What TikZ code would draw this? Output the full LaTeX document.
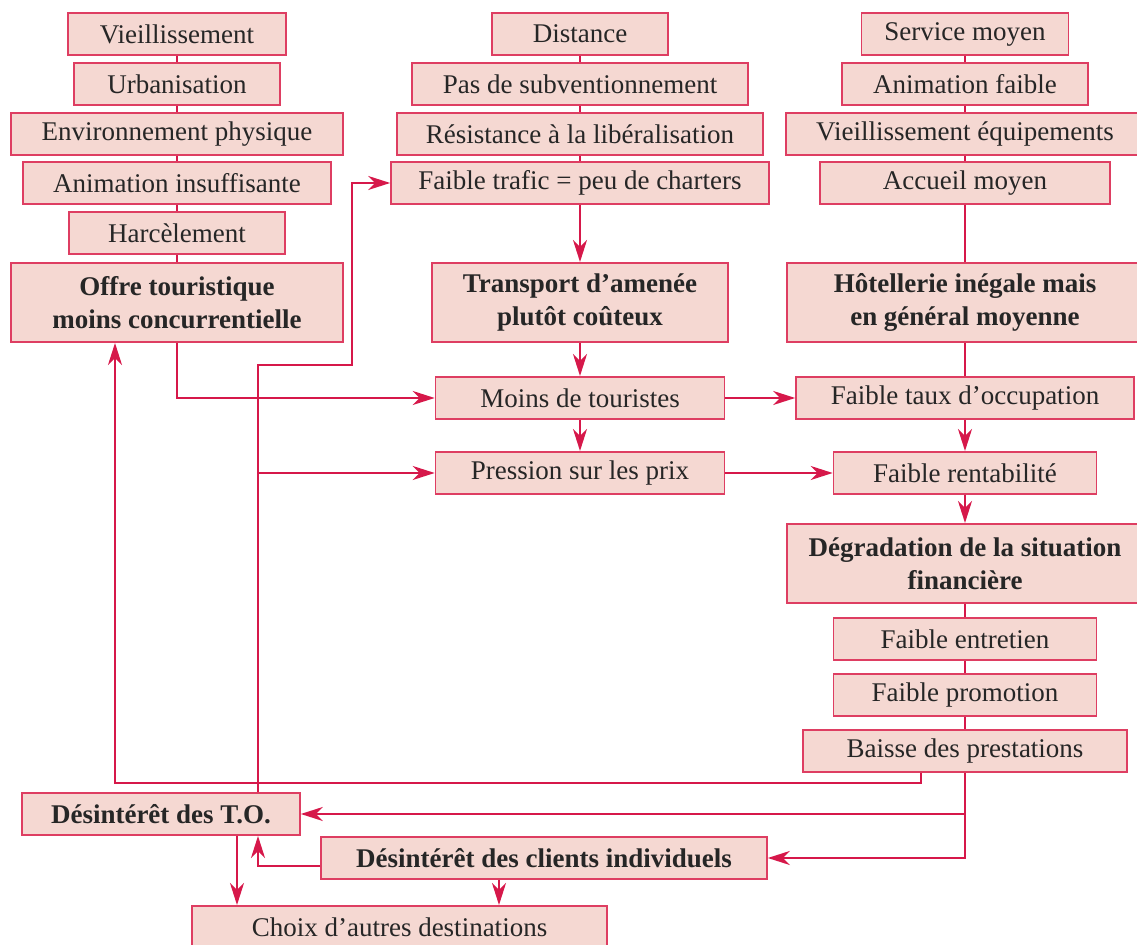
\documentclass[tikz,border=0pt]{standalone}
\usepackage{fontspec}
\setmainfont{Liberation Serif}
\usepackage{xcolor}
\usepackage{tikz}
\usetikzlibrary{positioning,arrows.meta}
\definecolor{rouge}{RGB}{214,24,74}
\definecolor{bordure}{RGB}{222,62,98}
\definecolor{rose}{RGB}{245,216,210}

\begin{document}
\begin{tikzpicture}[
    x=0.5pt, y=-0.5pt,
    cause/.style={draw=bordure, line width=0.8pt, fill=rose, minimum height=21.2pt,
                  inner sep=1pt, align=center, text=black!85,
                  font=\fontsize{13.5}{16.5}\selectfont},
    bilan/.style={cause, minimum height=39.7pt, font=\fontsize{13.5}{16.5}\selectfont\bfseries},
    lien/.style={rouge, line width=1.2pt},
    fleche/.style={lien, -{Stealth[length=11pt, width=7pt, inset=3.5pt]}}
]
\useasboundingbox (0,0) rectangle (1137,945);

\node[cause, minimum width=109pt] (vieil) at (177,34) {Vieillissement};
\node[cause, minimum width=103pt, below=3pt of vieil] (urban) {Urbanisation};
\node[cause, minimum width=166pt, below=3pt of urban] (envir) {Environnement physique};
\node[cause, minimum width=154pt, below=2.5pt of envir] (animI) {Animation insuffisante};
\node[cause, minimum width=108pt, below=3pt of animI] (harcel) {Harcèlement};
\node[bilan, minimum width=166pt, below=3.5pt of harcel] (offre) {Offre touristique\\moins concurrentielle};

\node[cause, minimum width=88pt] (dist) at (580,34) {Distance};
\node[cause, minimum width=168pt, below=3pt of dist] (subv) {Pas de subventionnement};
\node[cause, minimum width=183pt, below=3pt of subv] (resist) {Résistance à la libéralisation};
\node[cause, minimum width=189pt, below=2.5pt of resist] (trafic) {Faible trafic = peu de charters};
\node[bilan, minimum width=148pt, below=28.5pt of trafic] (transp) {Transport d’amenée\\plutôt coûteux};
\node[cause, minimum width=144.5pt, below=16.5pt of transp] (moins) {Moins de touristes};
\node[cause, minimum width=144.5pt, below=15.5pt of moins] (pression) {Pression sur les prix};

\node[cause, minimum width=103.5pt] (service) at (965,34) {Service moyen};
\node[cause, minimum width=123pt, below=3pt of service] (animF) {Animation faible};
\node[cause, minimum width=179pt, below=3pt of animF] (vieilE) {Vieillissement équipements};
\node[cause, minimum width=145pt, below=2.5pt of vieilE] (accueil) {Accueil moyen};
\node[bilan, minimum width=178pt, below=28.5pt of accueil] (hotel) {Hôtellerie inégale mais\\en général moyenne};
\node[cause, minimum width=169pt, below=16.5pt of hotel] (taux) {Faible taux d’occupation};
\node[cause, minimum width=131.5pt, below=15.5pt of taux] (rentab) {Faible rentabilité};
\node[bilan, minimum width=178pt, below=14pt of rentab] (degrad) {Dégradation de la situation\\financière};
\node[cause, minimum width=131.5pt, below=6.5pt of degrad] (entret) {Faible entretien};
\node[cause, minimum width=131.5pt, below=6pt of entret] (promo) {Faible promotion};
\node[cause, minimum width=162pt, below=6pt of promo] (baisse) {Baisse des prestations};

\node[bilan, minimum height=21.2pt, minimum width=139pt] (desTO) at (161,814) {Désintérêt des T.O.};
\node[bilan, minimum height=21.2pt, minimum width=223pt] (desCl) at (544,858) {Désintérêt des clients individuels};
\node[cause, minimum width=207.5pt] (choix) at (399.5,927) {Choix d’autres destinations};

\coordinate (coude) at (258,365);
\coordinate (relais) at (352,365);

\draw[lien] (vieil) -- (urban);
\draw[lien] (urban) -- (envir);
\draw[lien] (envir) -- (animI);
\draw[lien] (animI) -- (harcel);
\draw[lien] (harcel) -- (offre);
\draw[lien] (dist) -- (subv);
\draw[lien] (subv) -- (resist);
\draw[lien] (resist) -- (trafic);
\draw[lien] (service) -- (animF);
\draw[lien] (animF) -- (vieilE);
\draw[lien] (vieilE) -- (accueil);
\draw[lien] (accueil) -- (hotel);
\draw[lien] (hotel) -- (taux);
\draw[lien] (degrad) -- (entret);
\draw[lien] (entret) -- (promo);
\draw[lien] (promo) -- (baisse);

\draw[fleche] (trafic) -- (transp);
\draw[fleche] (transp) -- (moins);
\draw[fleche] (moins) -- (pression);
\draw[fleche] (taux) -- (rentab);
\draw[fleche] (rentab) -- (degrad);
\draw[fleche] (moins) -- (taux);
\draw[fleche] (pression) -- (rentab);
\draw[fleche] (offre.south) |- (moins.west);
\draw[fleche] ([xshift=48.5pt]desTO.north) -- (coude) -- (relais) |- (trafic.west);
\draw[fleche] (coude |- pression.west) -- (pression.west);
\draw[fleche] ([xshift=-22pt]baisse.south) -- ++(0,10) -| ([xshift=-31pt]offre.south);
\draw[fleche] (baisse.south) |- (desCl.east);
\draw[fleche] (baisse.south |- desTO.east) -- (desTO.east);
\draw[fleche] ([yshift=-4pt]desCl.west) -| ([xshift=48.5pt]desTO.south);
\draw[fleche] ([xshift=38pt]desTO.south) -- ([xshift=38pt]desTO.south |- choix.north);
\draw[fleche] ([xshift=-22.5pt]desCl.south) -- ([xshift=-22.5pt]desCl.south |- choix.north);
\end{tikzpicture}
\end{document}
